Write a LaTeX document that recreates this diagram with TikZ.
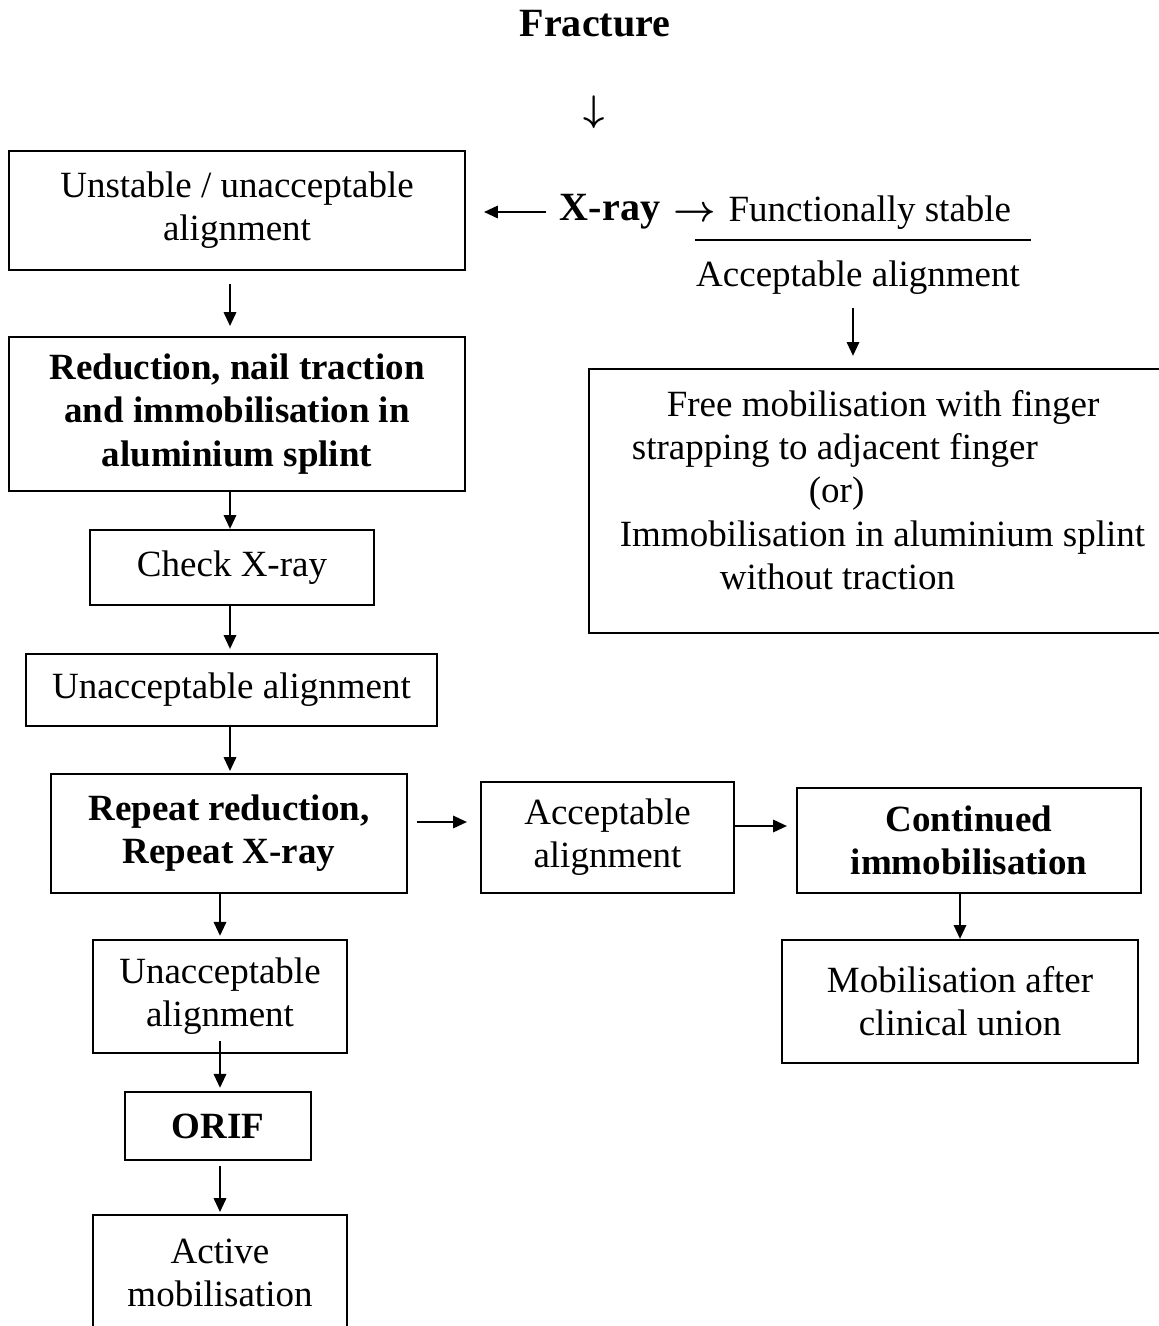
\documentclass[tikz,border=0pt]{standalone}
\usepackage{bm}
\usepackage{fontspec}
\setmainfont{Liberation Serif}
\usetikzlibrary{arrows.meta, positioning}
\newcommand{\pxu}{0.3243pt}

\begin{document}
\begin{tikzpicture}[x=\pxu, y=-\pxu,
  box/.style={draw, line width=0.7pt, inner sep=0pt, align=center,
    font=\fontsize{12}{14}\selectfont},
  word/.style={inner sep=0pt, font=\fontsize{12}{14}\selectfont},
  head/.style={inner sep=0pt, font=\fontsize{13}{15}\selectfont\bfseries},
  arr/.style={line width=0.7pt, -{Triangle[length=4.5pt, width=4pt]}}]
  \useasboundingbox (0,0) rectangle (1159,1326);

  % Nodes
  \node[head] (fracture) at (595,24) {Fracture};
  \node[word] (down) at (594,112) {$\bm{\downarrow}$};
  \node[head] (xray) at (610,212) {X-ray};
  \node[word, anchor=west] (stable) at (673,213) {$\bm{\rightarrow}$\hspace{4pt}Functionally stable};
  \node[word] (acc1) at (858,278) {Acceptable alignment};
  \node[box, minimum width=586*\pxu, minimum height=264*\pxu] (free) at (882,501) {};
  \node[word, align=left] (freetext) at (882.5,490)
    {\hspace*{15.2pt}Free mobilisation with finger\\
     \hspace*{3.9pt}strapping to adjacent finger\\
     \hspace*{61.3pt}(or)\\
     Immobilisation in aluminium splint\\
     \hspace*{32.4pt}without traction};

  \node[box, minimum width=456*\pxu, minimum height=119*\pxu] (unstable) at (237,210.5)
    {Unstable / unacceptable\\alignment};
  \node[box, minimum width=456*\pxu, minimum height=154*\pxu, font=\fontsize{12}{14}\selectfont\bfseries] (reduction) at (237,414)
    {Reduction, nail traction\\and immobilisation in\\aluminium splint};
  \node[box, minimum width=284*\pxu, minimum height=75*\pxu] (check) at (232,567.5) {Check X-ray};
  \node[box, minimum width=411*\pxu, minimum height=72*\pxu] (unacc1) at (231.5,690) {Unacceptable alignment};
  \node[box, minimum width=356*\pxu, minimum height=119*\pxu, font=\fontsize{12}{14}\selectfont\bfseries] (repeat) at (229,833.5)
    {Repeat reduction,\\Repeat X-ray};
  \node[box, minimum width=253*\pxu, minimum height=111*\pxu] (acc2) at (607.5,837.5) {Acceptable\\alignment};
  \node[box, minimum width=344*\pxu, minimum height=105*\pxu, font=\fontsize{12}{14}\selectfont\bfseries] (cont) at (969,840.5)
    {Continued\\immobilisation};
  \node[box, minimum width=356*\pxu, minimum height=123*\pxu] (mobil) at (960,1001.5) {Mobilisation after\\clinical union};
  \node[box, minimum width=254*\pxu, minimum height=113*\pxu] (unacc2) at (220,996.5) {Unacceptable\\alignment};
  \node[box, minimum width=186*\pxu, minimum height=68*\pxu, font=\fontsize{12}{14}\selectfont\bfseries] (orif) at (218,1126) {ORIF};
  \node[box, minimum width=254*\pxu, minimum height=116*\pxu] (active) at (220,1273) {Active\\mobilisation};

  \coordinate (colA) at (230,0);
  \coordinate (colB) at (220,0);
  \coordinate (colC) at (853,0);
  \coordinate (rowA) at (0,822);
  \coordinate (rowB) at (0,826);

  % Edges
  \draw[arr, shorten <=4.2pt, shorten >=3.9pt] (acc1.south -| colC) -- (free.north -| colC);
  \draw[arr, shorten <=4.2pt, shorten >=5.8pt] (xray.west) -- (xray.west -| unstable.east);
  \draw[arr, shorten <=4.2pt, shorten >=3.2pt] (unstable.south -| colA) -- (reduction.north -| colA);
  \draw[arr] (reduction.south -| colA) -- (check.north -| colA);
  \draw[arr, shorten >=1.3pt] (check.south -| colA) -- (unacc1.north -| colA);
  \draw[arr, shorten >=0.6pt] (unacc1.south -| colA) -- (repeat.north -| colA);
  \draw[arr, shorten >=1pt] (repeat.south -| colB) -- (unacc2.north -| colB);
  \draw[arr, shorten <=-4.2pt, shorten >=1pt] (unacc2.south -| colB) -- (orif.north -| colB);
  \draw[arr, shorten <=1.6pt, shorten >=0.6pt] (orif.south -| colB) -- (active.north -| colB);
  \draw[arr, shorten <=2.9pt, shorten >=4.2pt] (repeat.east |- rowA) -- (acc2.west |- rowA);
  \draw[arr, shorten >=2.9pt] (acc2.east |- rowB) -- (cont.west |- rowB);
  \draw[arr] (cont.south -| mobil.north) -- (mobil.north);

  % fraction line under the stable text
  \draw[line width=0.7pt] (695,240) -- (1031,240);

\end{tikzpicture}
\end{document}
